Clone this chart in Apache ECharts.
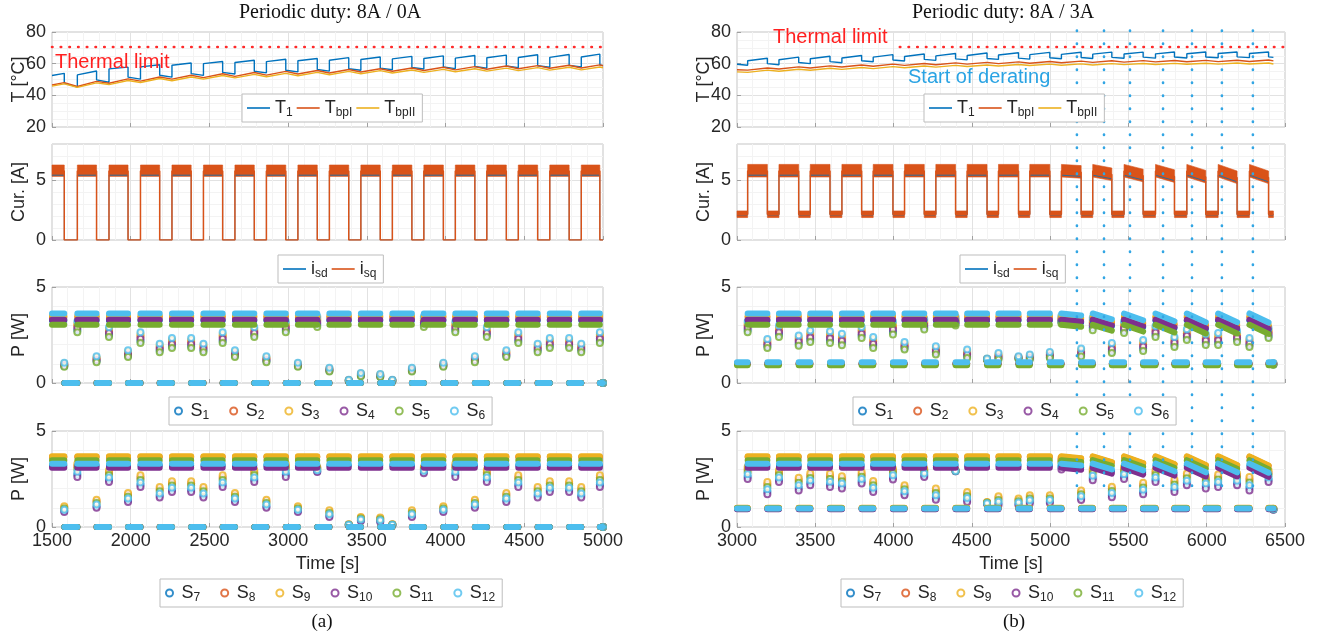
<!DOCTYPE html>
<html>
<head>
<meta charset="utf-8">
<script src="https://cdn.jsdelivr.net/npm/echarts@6/dist/echarts.min.js"></script>
<style>
html, body { margin: 0; padding: 0; background: #fff; }
#main { width: 1329px; height: 637px; }
</style>
</head>
<body>
<div id="main"></div>
<script>
// ---- cycle timing [s]: start / end of each high-current interval ----
var onA  = [1500, 1661, 1862, 2062, 2262, 2462, 2662, 2862, 3062, 3262, 3462, 3662, 3862, 4062, 4262, 4462, 4662, 4862];
var offA = [1578, 1783, 1983, 2184, 2384, 2584, 2785, 2985, 3185, 3385, 3585, 3786, 3986, 4186, 4386, 4585, 4785, 4980];
var onB  = [3068, 3268, 3468, 3670, 3870, 4070, 4270, 4470, 4670, 4870, 5072, 5272, 5472, 5673, 5873, 6073, 6273];
var offB = [3194, 3394, 3594, 3796, 3996, 4196, 4396, 4597, 4798, 4998, 5198, 5394, 5594, 5794, 5994, 6194, 6395];
var spanA = [1500, 5000];
var spanB = [3000, 6426];

// ---- temperatures (a) ----
var T1A_a = [52.5, 52.9, 56.7, 58.0, 59.0, 60.0, 60.7, 61.3, 61.8, 62.2, 62.6, 63.0, 63.3, 63.5, 63.7, 63.9, 64.0, 64.2];
var T1A_b = [53.9, 55.4, 57.8, 59.3, 60.4, 61.4, 62.2, 62.8, 63.3, 63.8, 64.2, 64.6, 64.9, 65.2, 65.4, 65.6, 65.8, 66.0];
var T1A_c = [47.7, 49.8, 51.5, 52.7, 53.7, 54.5, 55.2, 55.8, 56.3, 56.8, 57.2, 57.6, 57.9, 58.2, 58.5, 58.7, 58.9, 59.2];
var T1A_d = [45.2, 48.3, 50.2, 51.5, 52.6, 53.5, 54.2, 54.8, 55.3, 55.8, 56.2, 56.6, 56.9, 57.2, 57.5, 57.7, 57.9, 58.8];
var TbpIA_lo = [46.5, 45.6, 47.6, 49.0, 50.2, 51.2, 52.0, 52.8, 53.5, 54.1, 54.7, 55.2, 55.7, 56.1, 56.5, 56.8, 57.1, 57.3];
var TbpIA_hi = [48.0, 48.8, 50.4, 51.6, 52.7, 53.6, 54.4, 55.1, 55.7, 56.3, 56.8, 57.3, 57.7, 58.1, 58.5, 58.8, 59.0, 59.2];
var TbpIA_end = 58.7;
var TbpIIA_lo = [45.8, 45.0, 46.8, 48.1, 49.2, 50.2, 51.0, 51.7, 52.4, 53.0, 53.6, 54.1, 54.5, 54.9, 55.3, 55.6, 55.9, 56.1];
var TbpIIA_hi = [47.2, 47.9, 49.4, 50.6, 51.6, 52.5, 53.2, 53.9, 54.5, 55.1, 55.6, 56.0, 56.4, 56.8, 57.2, 57.5, 57.7, 57.9];
var TbpIIA_end = 57.4;

// ---- temperatures (b) ----
var T1B_head = [59.6, 59.0];
var T1B_a = [61.8, 62.5, 63.1, 63.6, 64.1, 64.5, 64.9, 65.2, 65.5, 65.7, 65.9, 66.0, 66.1, 66.2, 66.3, 66.4, 66.4];
var T1B_b = [63.4, 64.1, 64.7, 65.2, 65.7, 66.1, 66.4, 66.7, 66.9, 67.1, 67.2, 67.3, 67.3, 67.4, 67.4, 67.4, 67.4];
var T1B_c = [60.0, 60.7, 61.3, 61.8, 62.3, 62.7, 63.0, 63.3, 63.5, 63.7, 63.9, 64.0, 64.1, 64.2, 64.2, 64.3, 64.3];
var T1B_d = [59.3, 60.0, 60.6, 61.2, 61.7, 62.1, 62.4, 62.7, 62.9, 63.1, 63.3, 63.4, 63.5, 63.6, 63.7, 63.8, 64.0];
var TbpIB_lo = [55.9, 56.6, 57.3, 57.9, 58.4, 58.9, 59.3, 59.7, 60.0, 60.3, 60.6, 60.8, 61.0, 61.1, 61.2, 61.3, 61.4];
var TbpIB_hi = [57.3, 58.0, 58.6, 59.2, 59.7, 60.1, 60.5, 60.8, 61.1, 61.4, 61.6, 61.8, 61.9, 62.0, 62.1, 62.2, 62.3];
var TbpIB_ends = [56.2, 61.8];
var TbpIIB_lo = [54.5, 55.2, 55.8, 56.4, 56.9, 57.4, 57.8, 58.2, 58.5, 58.8, 59.0, 59.2, 59.4, 59.5, 59.6, 59.7, 59.8];
var TbpIIB_hi = [55.9, 56.5, 57.1, 57.6, 58.1, 58.5, 58.9, 59.2, 59.5, 59.7, 59.9, 60.0, 60.1, 60.2, 60.3, 60.4, 60.4];
var TbpIIB_ends = [54.8, 59.8];

var thermalLimit = 70.5;
var limitSpanA = [1500, 5000];
var limitSpanB = [4040, 6500];

// ---- currents ----
var dropA = [0, 0, 0, 0, 0, 0, 0, 0, 0, 0, 0, 0, 0, 0, 0, 0, 0, 0];
var dropIB = [0, 0, 0, 0, 0, 0, 0, 0, 0, 0, 0.1, 0.3, 0.4, 0.45, 0.5, 0.55, 0.55];
var isqBandA = [5.3, 6.25];
var isqBandB = [5.25, 6.3];
var isqLowBandB = [1.87, 2.42];
var isqLevelsA = [0, 5.75], isdLevelsA = [0, 5.4];
var isqLevelsB = [2.15, 5.75], isdLevelsB = [2.1, 5.4];

// ---- switch losses: plateau levels, S1..S6 / S7..S12 ----
var dropPB = [0, 0, 0, 0, 0, 0, 0, 0, 0, 0, 0.1, 0.3, 0.35, 0.4, 0.45, 0.45, 0.47];
var pHiA3 = [3.25, 3.42, 3.5, 3.3, 3.03, 3.62];
var pLoA3 = [0, 0, 0, 0, 0, 0];
var pHiA4 = [3.2, 3.65, 3.68, 3.08, 3.48, 3.3];
var pLoA4 = [0, 0, 0, 0, 0, 0];
var pHiB3 = [3.25, 3.42, 3.5, 3.3, 3.03, 3.62];
var pLoB3 = [1.0, 1.0, 1.02, 1.0, 0.93, 1.08];
var pHiB4 = [3.2, 3.65, 3.68, 3.08, 3.48, 3.3];
var pLoB4 = [0.95, 0.99, 1.0, 0.92, 0.98, 0.96];

// ---- switch losses at the current steps (a) ----
var tjA = [1578, 1661, 1783, 1862, 1983, 2062, 2184, 2262, 2384, 2462, 2584, 2662, 2785, 2862, 2985, 3062, 3185, 3262,
           3385, 3462, 3585, 3662, 3786, 3862, 3986, 4062, 4186, 4262, 4386, 4462, 4585, 4662, 4785, 4862, 4980, 5000];
var sA1 = [0.89,2.75,1.14,2.5,1.42,2.19,1.69,1.92,1.92,1.69,2.19,1.42,2.5,1.14,2.75,0.89,3.03,0.64,0.11,0.38,0.34,0.11,0.64,3.03,0.89,2.75,1.14,2.5,1.42,2.19,1.69,1.92,1.92,1.69,2.19,0];
var sA2 = [0.97,2.98,1.27,2.7,1.56,2.42,1.87,2.13,2.13,1.87,2.42,1.56,2.7,1.27,2.98,0.97,3.25,0.72,0.14,0.45,0.41,0.14,0.72,3.25,0.97,2.98,1.27,2.7,1.56,2.42,1.87,2.13,2.13,1.87,2.42,0];
var sA3 = [1.01,3.09,1.33,2.8,1.63,2.53,1.96,2.24,2.24,1.96,2.53,1.63,2.8,1.33,3.09,1.01,3.36,0.76,0.16,0.49,0.44,0.16,0.76,3.36,1.01,3.09,1.33,2.8,1.63,2.53,1.96,2.24,2.24,1.96,2.53,0];
var sA4 = [0.93,2.86,1.2,2.6,1.49,2.3,1.78,2.03,2.03,1.78,2.3,1.49,2.6,1.2,2.86,0.93,3.14,0.68,0.13,0.42,0.37,0.13,0.68,3.14,0.93,2.86,1.2,2.6,1.49,2.3,1.78,2.03,2.03,1.78,2.3,0];
var sA5 = [0.85,2.64,1.08,2.4,1.35,2.08,1.6,1.82,1.82,1.6,2.08,1.35,2.4,1.08,2.64,0.85,2.92,0.6,0.1,0.35,0.31,0.1,0.6,2.92,0.85,2.64,1.08,2.4,1.35,2.08,1.6,1.82,1.82,1.6,2.08,0];
var sA6 = [1.05,3.2,1.39,2.9,1.7,2.64,2.05,2.34,2.34,2.05,2.64,1.7,2.9,1.39,3.2,1.05,3.47,0.8,0.17,0.52,0.47,0.17,0.8,3.47,1.05,3.2,1.39,2.9,1.7,2.64,2.05,2.34,2.34,2.05,2.64,0];
var sA7 = [0.84,2.74,1.08,2.46,1.39,2.2,1.64,1.93,1.93,1.64,2.2,1.39,2.46,1.08,2.74,0.84,2.91,0.59,0.11,0.35,0.31,0.11,0.59,2.86,0.84,2.74,1.08,2.46,1.39,2.2,1.64,1.93,1.93,1.64,2.2,0];
var sA8 = [1.02,3.16,1.34,2.83,1.68,2.57,1.97,2.27,2.27,1.97,2.57,1.68,2.83,1.34,3.16,1.02,3.07,0.8,0.13,0.48,0.44,0.13,0.8,3.06,1.02,3.16,1.34,2.83,1.68,2.57,1.97,2.27,2.27,1.97,2.57,0];
var sA9 = [1.08,3.3,1.42,2.95,1.77,2.69,2.08,2.38,2.38,2.08,2.69,1.77,2.95,1.42,3.3,1.08,3.12,0.87,0.14,0.52,0.49,0.14,0.87,3.12,1.08,3.3,1.42,2.95,1.77,2.69,2.08,2.38,2.38,2.08,2.69,0];
var sA10 = [0.78,2.6,1.0,2.34,1.3,2.08,1.53,1.82,1.82,1.53,2.08,1.3,2.34,1.0,2.6,0.78,2.86,0.52,0.1,0.31,0.26,0.1,0.52,2.8,0.78,2.6,1.0,2.34,1.3,2.08,1.53,1.82,1.82,1.53,2.08,0];
var sA11 = [0.96,3.02,1.25,2.71,1.58,2.45,1.86,2.16,2.16,1.86,2.45,1.58,2.71,1.25,3.02,0.96,3.02,0.73,0.12,0.44,0.4,0.12,0.73,2.99,0.96,3.02,1.25,2.71,1.58,2.45,1.86,2.16,2.16,1.86,2.45,0];
var sA12 = [0.9,2.88,1.17,2.58,1.49,2.32,1.75,2.04,2.04,1.75,2.32,1.49,2.58,1.17,2.88,0.9,2.96,0.66,0.12,0.39,0.35,0.12,0.66,2.93,0.9,2.88,1.17,2.58,1.49,2.32,1.75,2.04,2.04,1.75,2.32,0];

// ---- switch losses at the current steps (b) ----
var tjB = [3068, 3194, 3268, 3394, 3468, 3594, 3670, 3796, 3870, 3996, 4070, 4196, 4270, 4396, 4470, 4597, 4670, 4798,
           4870, 4998, 5072, 5198, 5272, 5394, 5472, 5594, 5673, 5794, 5873, 5994, 6073, 6194, 6273, 6395, 6426];
var sB1 = [2.75,1.91,2.52,2.05,2.25,2.2,2.08,2.46,1.94,2.66,1.82,2.89,1.57,3.09,1.39,1.22,1.29,1.28,1.27,1.36,3.18,1.46,2.88,1.66,2.72,1.78,2.51,1.98,2.35,2.09,2.1,2.25,1.97,2.44,0.97];
var sB2 = [2.98,2.1,2.75,2.26,2.5,2.45,2.32,2.69,2.17,2.93,1.97,3.11,1.74,3.27,1.56,1.25,1.42,1.33,1.38,1.49,3.34,1.63,3.14,1.87,2.96,2.01,2.74,2.19,2.58,2.32,2.35,2.48,2.16,2.65,1.0];
var sB3 = [3.09,2.2,2.87,2.37,2.62,2.58,2.44,2.8,2.28,3.06,2.05,3.22,1.82,3.36,1.65,1.26,1.49,1.36,1.43,1.56,3.42,1.72,3.27,1.98,3.08,2.13,2.86,2.3,2.69,2.44,2.48,2.59,2.25,2.76,1.02];
var sB4 = [2.86,2.01,2.64,2.16,2.37,2.33,2.2,2.57,2.05,2.79,1.9,3.0,1.65,3.18,1.48,1.23,1.36,1.31,1.32,1.43,3.26,1.55,3.01,1.77,2.84,1.9,2.63,2.09,2.46,2.21,2.23,2.36,2.06,2.55,0.99];
var sB5 = [2.64,1.82,2.4,1.94,2.13,2.08,1.96,2.34,1.82,2.52,1.74,2.78,1.48,3.0,1.3,1.2,1.22,1.25,1.22,1.3,3.1,1.38,2.75,1.56,2.6,1.67,2.4,1.88,2.24,1.98,1.98,2.14,1.88,2.34,0.95];
var sB6 = [3.2,2.29,2.99,2.48,2.74,2.7,2.56,2.92,2.4,3.2,2.13,3.33,1.91,3.45,1.74,1.28,1.56,1.39,1.48,1.62,3.5,1.8,3.4,2.08,3.2,2.24,2.97,2.4,2.8,2.55,2.6,2.7,2.34,2.86,1.04];
var sB7 = [2.62,1.83,2.46,2.03,2.3,2.22,2.13,2.38,1.94,2.58,1.75,2.69,1.54,2.91,1.4,1.22,1.22,1.2,1.31,1.33,3.12,1.5,2.55,1.66,2.62,1.82,2.46,1.95,2.29,2.13,2.21,2.29,2.04,2.46,0.91];
var sB8 = [3.0,2.21,2.83,2.44,2.67,2.64,2.51,2.74,2.28,2.93,2.07,2.95,1.88,2.94,1.72,1.28,1.51,1.41,1.56,1.57,3.48,1.8,2.92,1.99,3.0,2.18,2.83,2.34,2.66,2.51,2.61,2.66,2.46,2.83,0.94];
var sB9 = [3.12,2.34,2.95,2.57,2.8,2.78,2.64,2.86,2.4,3.04,2.17,3.04,2.0,2.95,1.82,1.3,1.6,1.48,1.65,1.65,3.6,1.9,3.04,2.1,3.12,2.3,2.95,2.47,2.78,2.64,2.74,2.78,2.6,2.95,0.95];
var sB10 = [2.5,1.7,2.34,1.9,2.17,2.08,2.0,2.26,1.82,2.47,1.65,2.6,1.42,2.9,1.3,1.2,1.13,1.13,1.22,1.25,3.0,1.4,2.43,1.55,2.5,1.7,2.34,1.82,2.17,2.0,2.08,2.17,1.9,2.34,0.9];
var sB11 = [2.87,2.08,2.71,2.3,2.55,2.5,2.38,2.62,2.17,2.81,1.96,2.86,1.77,2.93,1.61,1.26,1.41,1.34,1.48,1.49,3.36,1.7,2.8,1.88,2.87,2.06,2.71,2.21,2.54,2.38,2.48,2.54,2.32,2.71,0.93];
var sB12 = [2.75,1.96,2.58,2.17,2.42,2.36,2.26,2.5,2.05,2.7,1.86,2.78,1.65,2.92,1.51,1.24,1.32,1.27,1.39,1.41,3.24,1.6,2.67,1.77,2.75,1.94,2.58,2.08,2.41,2.26,2.34,2.41,2.18,2.58,0.92];

// start of derating marks (b)
var derateT = [5171, 5344, 5510, 5721, 5906, 6097, 6295];

// ---------------------------------------------------------------
var FONT = 'Liberation Sans, Arial, Helvetica, sans-serif';
var SERIF = 'Liberation Serif, Times New Roman, serif';
var TXT = '#262626';
var COLS = ['#0072BD', '#D95319', '#EDB120', '#7E2F8E', '#77AC30', '#4DBEEE'];

var grids = [
  {left: 52, top: 32, width: 551, height: 95},
  {left: 52, top: 144, width: 551, height: 96},
  {left: 52, top: 287, width: 551, height: 96},
  {left: 52, top: 431, width: 551, height: 96},
  {left: 737, top: 32, width: 548, height: 95},
  {left: 737, top: 144, width: 548, height: 96},
  {left: 737, top: 287, width: 548, height: 96},
  {left: 737, top: 431, width: 548, height: 96}
].map(function (g) {
  return Object.assign({show: true, borderColor: '#c4c4c4', borderWidth: 1, backgroundColor: '#fff', containLabel: false}, g);
});
grids.push({left: 737, top: 28, width: 548, height: 458, show: false});

function plain(v) { return String(v); }

function xAx(gi, min, max, labels) {
  return {
    type: 'value', gridIndex: gi, min: min, max: max, interval: 500,
    axisLine: {show: false},
    axisTick: {show: true, inside: true, length: 4, lineStyle: {color: '#a0a0a0'}},
    axisLabel: {show: labels, fontFamily: FONT, fontSize: 18, color: TXT, margin: 5, formatter: plain},
    splitLine: {show: true, lineStyle: {color: '#e2e2e2'}},
    minorTick: {show: false, splitNumber: 5},
    minorSplitLine: {show: true, lineStyle: {color: '#f3f3f3'}},
    name: labels ? 'Time [s]' : '', nameLocation: 'middle', nameGap: 28, nameMoveOverlap: false,
    nameTextStyle: {fontFamily: FONT, fontSize: 18, color: TXT}
  };
}
var yKinds = {
  T: {min: 20, max: 80, interval: 20, split: 4, name: 'T [°C]'},
  I: {min: 0, max: 8, interval: 5, split: 5, name: 'Cur. [A]'},
  P: {min: 0, max: 5, interval: 5, split: 5, name: 'P [W]'}
};
function yAx(gi, kind) {
  var k = yKinds[kind];
  return {
    type: 'value', gridIndex: gi, min: k.min, max: k.max, interval: k.interval,
    name: k.name, nameLocation: 'middle', nameGap: 24, nameMoveOverlap: false,
    nameTextStyle: {fontFamily: FONT, fontSize: 18, color: TXT},
    axisLine: {show: false},
    axisTick: {show: true, inside: true, length: 4, lineStyle: {color: '#a0a0a0'}},
    axisLabel: {fontFamily: FONT, fontSize: 18, color: TXT, margin: 6, showMaxLabel: kind !== 'I', formatter: plain},
    splitLine: {show: true, lineStyle: {color: '#e2e2e2'}},
    minorTick: {show: false, splitNumber: k.split},
    minorSplitLine: {show: true, lineStyle: {color: '#f3f3f3'}}
  };
}

var xAxes = [], yAxes = [];
['T', 'I', 'P', 'P'].forEach(function (k, i) {
  xAxes.push(xAx(i, 1500, 5000, i === 3));
  yAxes.push(yAx(i, k));
});
['T', 'I', 'P', 'P'].forEach(function (k, i) {
  xAxes.push(xAx(i + 4, 3000, 6500, i === 3));
  yAxes.push(yAx(i + 4, k));
});
xAxes.push({type: 'value', gridIndex: 8, min: 3000, max: 6500, show: false});
yAxes.push({type: 'value', gridIndex: 8, min: 0, max: 1, show: false});

// ---- data builders ----
function t1Line(on, off, a, b, c, d, head, xEnd) {
  var pts = head.slice();
  for (var i = 0; i < on.length; i++) {
    pts.push([on[i], a[i]], [off[i], b[i]], [off[i], c[i]], [i + 1 < on.length ? on[i + 1] : xEnd, d[i]]);
  }
  return pts;
}
function bpLine(on, off, lo, hi, head, tail) {
  var pts = head.slice();
  for (var i = 0; i < on.length; i++) pts.push([on[i], lo[i]], [off[i], hi[i]]);
  pts.push(tail);
  return pts;
}
function curLine(on, off, lv, drop, span) {
  var pts = [];
  if (on[0] > span[0]) pts.push([span[0], lv[0]]);
  for (var i = 0; i < on.length; i++) {
    if (on[i] > span[0]) pts.push([on[i], lv[0]]);
    pts.push([on[i], lv[1]], [off[i], lv[1] - drop[i]], [off[i], lv[0]]);
  }
  pts.push([span[1], lv[0]]);
  return pts;
}
function curBands(on, off, band, drop, lowBand, span) {
  var items = [];
  for (var i = 0; i < on.length; i++) {
    items.push([on[i], off[i], band[0], band[1], band[0] - drop[i], band[1] - drop[i]]);
  }
  if (lowBand) {
    var st = [span[0]].concat(off), en = on.concat([span[1]]);
    for (var j = 0; j < st.length; j++) {
      if (en[j] > st[j]) items.push([st[j], en[j], lowBand[0], lowBand[1], lowBand[0], lowBand[1]]);
    }
  }
  return items;
}
function pBand(on, off, hv, lv, drop, span) {
  var pts = [];
  for (var i = 0; i < on.length; i++) pts.push([on[i], hv], [off[i], hv - drop[i]], [off[i], null]);
  var st = [span[0]].concat(off), en = on.concat([span[1]]);
  for (var j = 0; j < st.length; j++) {
    if (en[j] > st[j]) pts.push([st[j], lv], [en[j], lv], [en[j], null]);
  }
  return pts;
}

// ---- series builders ----
function lineS(name, ax, data, color, width, extra) {
  return Object.assign({
    type: 'line', name: name, xAxisIndex: ax, yAxisIndex: ax, data: data,
    symbol: 'none', showSymbol: false, silent: true, animation: false,
    lineStyle: {color: color, width: width}, itemStyle: {color: color}
  }, extra || {});
}
function bandS(name, ax, items, color) {
  return {
    type: 'custom', name: name, xAxisIndex: ax, yAxisIndex: ax, data: items,
    encode: {x: [0, 1], y: [2, 3, 4, 5]}, silent: true, animation: false,
    itemStyle: {color: color},
    renderItem: function (params, api) {
      var p1 = api.coord([api.value(0), api.value(3)]);
      var p2 = api.coord([api.value(1), api.value(5)]);
      var p3 = api.coord([api.value(1), api.value(4)]);
      var p4 = api.coord([api.value(0), api.value(2)]);
      return {type: 'polygon', shape: {points: [p1, p2, p3, p4]}, style: {fill: color, stroke: color, lineWidth: 0.6}};
    }
  };
}
function dotS(name, ax, ts, vals, color) {
  return {
    type: 'scatter', name: name, xAxisIndex: ax, yAxisIndex: ax,
    data: ts.map(function (t, i) { return [t, vals[i]]; }),
    symbol: 'emptyCircle', symbolSize: 6, clip: false, silent: true, animation: false,
    itemStyle: {color: color, borderWidth: 1.3}
  };
}

var series = [];
// (a) temperatures
series.push(lineS('T1', 0, t1Line(onA, offA, T1A_a, T1A_b, T1A_c, T1A_d, [], spanA[1]), COLS[0], 1.4));
series.push(lineS('TbpI', 0, bpLine(onA, offA, TbpIA_lo, TbpIA_hi, [], [spanA[1], TbpIA_end]), COLS[1], 1.4));
series.push(lineS('TbpII', 0, bpLine(onA, offA, TbpIIA_lo, TbpIIA_hi, [], [spanA[1], TbpIIA_end]), COLS[2], 1.4));
series.push(lineS('limitA', 0, [[limitSpanA[0], thermalLimit], [limitSpanA[1], thermalLimit]], '#ff2a2a', 2.6,
  {lineStyle: {color: '#ff2a2a', width: 2.6, type: [0.5, 8.2], cap: 'round'}}));
// (b) temperatures
series.push(lineS('T1', 4, t1Line(onB, offB, T1B_a, T1B_b, T1B_c, T1B_d,
  [[spanB[0], T1B_head[0]], [onB[0], T1B_head[1]]], spanB[1]), COLS[0], 1.4));
series.push(lineS('TbpI', 4, bpLine(onB, offB, TbpIB_lo, TbpIB_hi, [[spanB[0], TbpIB_ends[0]]], [spanB[1], TbpIB_ends[1]]), COLS[1], 1.4));
series.push(lineS('TbpII', 4, bpLine(onB, offB, TbpIIB_lo, TbpIIB_hi, [[spanB[0], TbpIIB_ends[0]]], [spanB[1], TbpIIB_ends[1]]), COLS[2], 1.4));
series.push(lineS('limitB', 4, [[limitSpanB[0], thermalLimit], [limitSpanB[1], thermalLimit]], '#ff2a2a', 2.6,
  {lineStyle: {color: '#ff2a2a', width: 2.6, type: [0.5, 8.2], cap: 'round'}}));

// currents
series.push(lineS('isd', 1, curLine(onA, offA, isdLevelsA, dropA, spanA), COLS[0], 0.8));
series.push(lineS('isq', 1, curLine(onA, offA, isqLevelsA, dropA, spanA), COLS[1], 1.5));
series.push(bandS('isq band', 1, curBands(onA, offA, isqBandA, dropA, null, spanA), COLS[1]));
series.push(lineS('isd', 5, curLine(onB, offB, isdLevelsB, dropIB, spanB), COLS[0], 0.8));
series.push(lineS('isq', 5, curLine(onB, offB, isqLevelsB, dropIB, spanB), COLS[1], 1.5));
series.push(bandS('isq band', 5, curBands(onB, offB, isqBandB, dropIB, isqLowBandB, spanB), COLS[1]));

// switch losses
function powerRow(ax, names, on, off, hi, lo, drop, span, tj, vals) {
  var i;
  for (i = 0; i < 6; i++) {
    series.push(lineS(names[i] + ' band', ax, pBand(on, off, hi[i], lo[i], drop, span), COLS[i], 6,
      {clip: false, lineStyle: {color: COLS[i], width: 6, cap: 'round', join: 'round'}}));
  }
  for (i = 0; i < 6; i++) series.push(dotS(names[i], ax, tj, vals[i], COLS[i]));
}
var namesLo = ['S1', 'S2', 'S3', 'S4', 'S5', 'S6'];
var namesHi = ['S7', 'S8', 'S9', 'S10', 'S11', 'S12'];
powerRow(2, namesLo, onA, offA, pHiA3, pLoA3, dropA, spanA, tjA, [sA1, sA2, sA3, sA4, sA5, sA6]);
powerRow(3, namesHi, onA, offA, pHiA4, pLoA4, dropA, spanA, tjA, [sA7, sA8, sA9, sA10, sA11, sA12]);
powerRow(6, namesLo, onB, offB, pHiB3, pLoB3, dropPB, spanB, tjB, [sB1, sB2, sB3, sB4, sB5, sB6]);
powerRow(7, namesHi, onB, offB, pHiB4, pLoB4, dropPB, spanB, tjB, [sB7, sB8, sB9, sB10, sB11, sB12]);

// start-of-derating markers across the right column
var derateData = [];
derateT.forEach(function (t) { derateData.push([t, 0], [t, 1], [t, null]); });
series.push(lineS('derating', 8, derateData, '#33a6e4', 2.6,
  {lineStyle: {color: '#33a6e4', width: 2.6, type: [0.5, 12.5], cap: 'round'}}));

// ---- legends ----
var rich = {
  n: {fontFamily: FONT, fontSize: 18, color: TXT, lineHeight: 22},
  s: {fontFamily: FONT, fontSize: 12, color: TXT, lineHeight: 12, padding: [10, 0, 0, 0]}
};
function subName(name) {
  return '{n|' + name.charAt(0) + '}{s|' + name.slice(1) + '}';
}
function legend(names, left, top, iw, ih, gap, icon) {
  return {
    data: names.map(function (n) { return icon ? {name: n, icon: icon} : {name: n}; }),
    left: left, top: top, orient: 'horizontal', selectedMode: false,
    backgroundColor: '#fff', borderColor: '#bdbdbd', borderWidth: 1, borderRadius: 0,
    padding: [3, 7, 3, 5], itemGap: gap, itemWidth: iw, itemHeight: ih,
    formatter: subName, textStyle: {fontFamily: FONT, fontSize: 18, color: TXT, rich: rich}
  };
}
var legends = [
  legend(['T1', 'TbpI', 'TbpII'], 242, 94, 23, 1.6, 4, 'rect'),
  legend(['isd', 'isq'], 278, 255, 23, 1.6, 4, 'rect'),
  legend(namesLo, 169, 397, 14, 7, 20),
  legend(namesHi, 160, 579, 14, 7, 20),
  legend(['T1', 'TbpI', 'TbpII'], 924, 94, 23, 1.6, 4, 'rect'),
  legend(['isd', 'isq'], 960, 255, 23, 1.6, 4, 'rect'),
  legend(namesLo, 853, 397, 14, 7, 20),
  legend(namesHi, 841, 579, 14, 7, 20)
];

function txt(x, y, text, size, family, color, align) {
  return {
    type: 'text', x: x, y: y, z: 100, silent: true,
    style: {text: text, fontSize: size, fontFamily: family, fill: color,
      align: align || 'center', verticalAlign: 'middle', textAlign: align || 'center', textVerticalAlign: 'middle'}
  };
}

var chart = echarts.init(document.getElementById('main'), null, {renderer: 'canvas'});
chart.setOption({
  backgroundColor: '#fff',
  animation: false,
  grid: grids,
  xAxis: xAxes,
  yAxis: yAxes,
  legend: legends,
  series: series,
  graphic: [
    txt(330, 13, 'Periodic duty: 8A / 0A', 20, SERIF, '#111'),
    txt(1003, 13, 'Periodic duty: 8A / 3A', 20, SERIF, '#111'),
    txt(322, 622, '(a)', 19, SERIF, '#111'),
    txt(1014, 622, '(b)', 19, SERIF, '#111'),
    txt(55, 62, 'Thermal limit', 20, FONT, '#ff2020', 'left'),
    txt(773, 37, 'Thermal limit', 20, FONT, '#ff2020', 'left'),
    txt(908, 77, 'Start of derating', 20, FONT, '#2aa3e3', 'left')
  ]
});
</script>
</body>
</html>
